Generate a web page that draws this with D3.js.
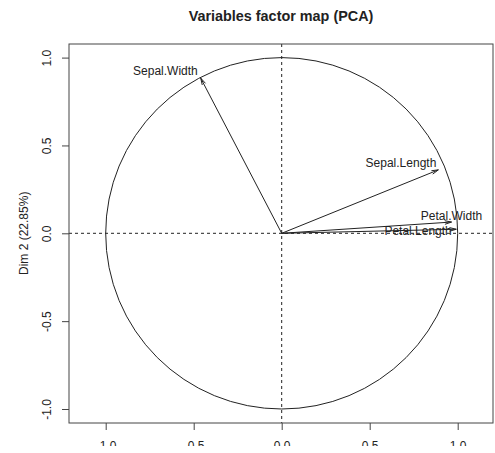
<!DOCTYPE html>
<html>
<head>
<meta charset="utf-8">
<script src="https://cdn.jsdelivr.net/npm/d3@7/dist/d3.min.js"></script>
<style>
  html, body { margin: 0; padding: 0; background: #fff; }
  svg { display: block; }
  text { font-family: "Liberation Sans", Arial, Helvetica, sans-serif; fill: #222; }
</style>
</head>
<body>
<svg id="chart" width="495" height="453"></svg>
<script>
// Correlations of the iris variables with the first two principal components
const variables = ["Sepal.Length", "Sepal.Width", "Petal.Length", "Petal.Width"];
const dim1 = [0.890, -0.460, 0.992, 0.965];
const dim2 = [0.361, 0.883, 0.023, 0.064];
const tickValues = [-1.0, -0.5, 0.0, 0.5, 1.0];
const tickLabels = ["-1.0", "-0.5", "0.0", "0.5", "1.0"];
const titleText = "Variables factor map (PCA)";
const yTitle = "Dim 2 (22.85%)";

// Label placement next to each arrow tip (anchor and pixel offset)
const labelPlacement = {
  "Sepal.Length": { anchor: "end",    dx: -2,  dy: -2.5 },
  "Sepal.Width":  { anchor: "end",    dx: -3,  dy: -3 },
  "Petal.Length": { anchor: "end",    dx: -4.5, dy: 5.5 },
  "Petal.Width":  { anchor: "middle", dx: 0,   dy: -2 }
};

const svg = d3.select("#chart");
const box = { left: 69, right: 493, top: 44, bottom: 423 };

const x = d3.scaleLinear().domain([-1, 1]).range([105.7, 457.7]);
const y = d3.scaleLinear().domain([-1, 1]).range([409, 57.6]);

const ink = "#222";

// The bottom tick labels run off the lower edge of the figure
svg.append("defs").append("clipPath").attr("id", "bottom-cut")
  .append("rect").attr("x", 0).attr("y", 0).attr("width", 495).attr("height", 446);

// Title
svg.append("text")
  .attr("x", 281).attr("y", 21)
  .attr("text-anchor", "middle")
  .style("font-size", "14.4px").style("font-weight", "bold")
  .text(titleText);

// Unit circle
svg.append("ellipse")
  .attr("cx", x(0)).attr("cy", y(0))
  .attr("rx", x(1) - x(0)).attr("ry", y(0) - y(1))
  .attr("fill", "none").attr("stroke", ink).attr("stroke-width", 1);

// Reference lines through the origin
svg.append("line")
  .attr("x1", box.left).attr("x2", box.right)
  .attr("y1", y(0)).attr("y2", y(0))
  .attr("stroke", ink).attr("stroke-dasharray", "3,3");
svg.append("line")
  .attr("x1", x(0)).attr("x2", x(0))
  .attr("y1", box.top).attr("y2", box.bottom)
  .attr("stroke", ink).attr("stroke-dasharray", "3,3");

// Arrows for each variable
const data = variables.map((v, i) => ({ name: v, d1: dim1[i], d2: dim2[i] }));
const headLen = 7, headAngle = 15 * Math.PI / 180;
const arrows = svg.append("g");
data.forEach(d => {
  const x0 = x(0), y0 = y(0), x1 = x(d.d1), y1 = y(d.d2);
  const ang = Math.atan2(y1 - y0, x1 - x0);
  arrows.append("line")
    .attr("x1", x0).attr("y1", y0).attr("x2", x1).attr("y2", y1)
    .attr("stroke", ink).attr("stroke-width", 1);
  const p1 = [x1 - headLen * Math.cos(ang - headAngle), y1 - headLen * Math.sin(ang - headAngle)];
  const p2 = [x1 - headLen * Math.cos(ang + headAngle), y1 - headLen * Math.sin(ang + headAngle)];
  arrows.append("path")
    .attr("d", `M${p1[0]},${p1[1]}L${x1},${y1}L${p2[0]},${p2[1]}`)
    .attr("fill", "none").attr("stroke", ink).attr("stroke-width", 1);
  const lp = labelPlacement[d.name];
  arrows.append("text")
    .attr("x", x1 + lp.dx).attr("y", y1 + lp.dy)
    .attr("text-anchor", lp.anchor)
    .style("font-size", "12px")
    .text(d.name);
});

// Plot frame
svg.append("rect")
  .attr("x", box.left).attr("y", box.top)
  .attr("width", box.right - box.left).attr("height", box.bottom - box.top)
  .attr("fill", "none").attr("stroke", "#444").attr("stroke-width", 1);

// Bottom axis
const xAxis = d3.axisBottom(x).tickValues(tickValues)
  .tickFormat((d, i) => tickLabels[i]).tickSize(7).tickPadding(11);
const gx = svg.append("g").attr("clip-path", "url(#bottom-cut)")
  .append("g").attr("transform", `translate(0,${box.bottom})`).call(xAxis);
gx.select(".domain").remove();
gx.selectAll(".tick line").attr("stroke", "#444");
gx.selectAll(".tick text").style("font-size", "12px")
  .style("font-family", "Liberation Sans, Arial, sans-serif").attr("fill", ink);

// Left axis with labels parallel to the axis
const yAxis = d3.axisLeft(y).tickValues(tickValues)
  .tickFormat((d, i) => tickLabels[i]).tickSize(7);
const gy = svg.append("g").attr("transform", `translate(${box.left},0)`).call(yAxis);
gy.select(".domain").remove();
gy.selectAll(".tick line").attr("stroke", "#444");
gy.selectAll(".tick text")
  .attr("x", null).attr("dy", null)
  .attr("transform", "translate(-18,0) rotate(-90)")
  .attr("text-anchor", "middle")
  .attr("y", 0)
  .style("font-size", "12px")
  .style("font-family", "Liberation Sans, Arial, sans-serif")
  .attr("fill", ink);

// Y axis title
svg.append("text")
  .attr("transform", `translate(28,${y(0)}) rotate(-90)`)
  .attr("text-anchor", "middle")
  .style("font-size", "12px")
  .text(yTitle);
</script>
</body>
</html>
